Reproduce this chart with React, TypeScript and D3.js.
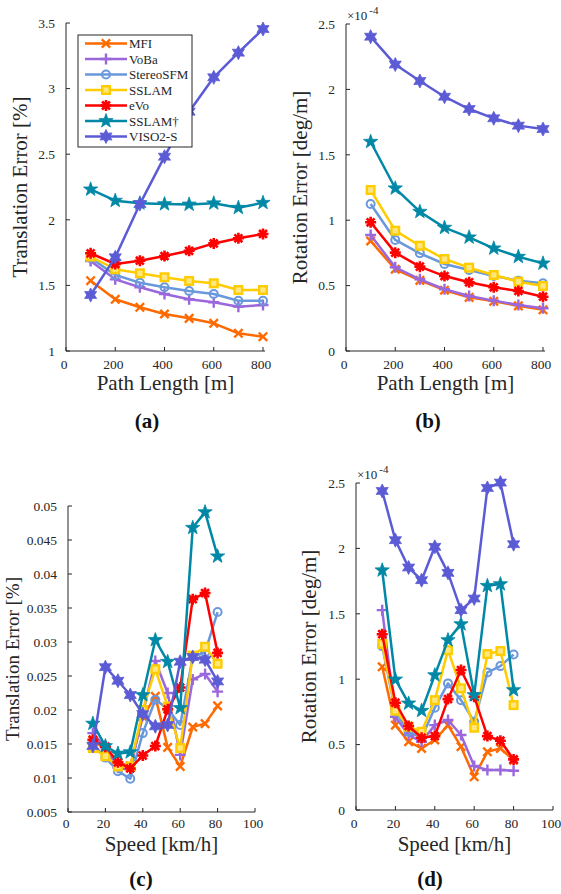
import React from "react";
import * as d3 from "d3";

const pathLengths = [100, 200, 300, 400, 500, 600, 700, 800];
const speeds = [13.3, 20, 26.7, 33.3, 40, 46.7, 53.3, 60, 66.7, 73.3, 80];
const methods = ["MFI", "VoBa", "StereoSFM", "SSLAM", "eVo", "SSLAM†", "VISO2-S"];
const colors = ["#ff6a00", "#9a68dc", "#6a98dc", "#ffcc00", "#ff0000", "#0088a6", "#5b5bd6"];
const markerTypes = ["x", "+", "o", "s", "*", "p", "h"];

// (a) translation error vs path length
const aMFI = [1.536, 1.394, 1.333, 1.282, 1.249, 1.211, 1.135, 1.109];
const aVoBa = [1.686, 1.546, 1.486, 1.434, 1.394, 1.371, 1.338, 1.351];
const aStereo = [1.71, 1.58, 1.52, 1.486, 1.457, 1.434, 1.383, 1.383];
const aSSLAM = [1.72, 1.623, 1.592, 1.562, 1.534, 1.516, 1.465, 1.465];
const aEVo = [1.745, 1.663, 1.688, 1.724, 1.764, 1.82, 1.859, 1.892];
const aSSLAMd = [2.232, 2.146, 2.126, 2.12, 2.117, 2.126, 2.092, 2.13];
const aVISO = [1.427, 1.714, 2.12, 2.481, 2.824, 3.086, 3.274, 3.454];

// (b) rotation error vs path length (x1e-4)
const bMFI = [0.841, 0.625, 0.54, 0.465, 0.41, 0.38, 0.345, 0.315];
const bVoBa = [0.887, 0.64, 0.548, 0.472, 0.42, 0.385, 0.352, 0.327];
const bStereo = [1.124, 0.849, 0.747, 0.665, 0.619, 0.573, 0.538, 0.518];
const bSSLAM = [1.231, 0.92, 0.805, 0.703, 0.637, 0.581, 0.53, 0.497];
const bEVo = [0.984, 0.752, 0.645, 0.573, 0.525, 0.487, 0.459, 0.415];
const bSSLAMd = [1.6, 1.244, 1.065, 0.943, 0.869, 0.785, 0.721, 0.67];
const bVISO = [2.403, 2.19, 2.064, 1.944, 1.85, 1.779, 1.723, 1.697];

// (c) translation error vs speed
const cMFI = [0.0156, 0.0142, 0.0122, 0.0118, 0.019, 0.022, 0.0145, 0.0117, 0.0175, 0.018, 0.0206];
const cVoBa = [0.0166, 0.0145, 0.0115, 0.0112, 0.0195, 0.0272, 0.0225, 0.0134, 0.0245, 0.0253, 0.0227];
const cStereo = [0.015, 0.013, 0.011, 0.0099, 0.0166, 0.0215, 0.0202, 0.0178, 0.0278, 0.0285, 0.0344];
const cSSLAM = [0.0144, 0.0132, 0.0117, 0.0117, 0.02, 0.026, 0.0205, 0.0144, 0.028, 0.0293, 0.0268];
const cEVo = [0.0156, 0.0146, 0.0123, 0.0114, 0.0133, 0.0147, 0.0201, 0.0233, 0.0363, 0.0372, 0.0284];
const cSSLAMd = [0.018, 0.0147, 0.0136, 0.0138, 0.0222, 0.0303, 0.0271, 0.0203, 0.0468, 0.0491, 0.0426];
const cVISO = [0.0147, 0.0263, 0.0243, 0.0222, 0.0194, 0.0176, 0.0178, 0.0271, 0.0278, 0.0274, 0.0242];

// (d) rotation error vs speed (x1e-4)
const dMFI = [1.095, 0.649, 0.522, 0.471, 0.535, 0.649, 0.484, 0.254, 0.445, 0.471, 0.38];
const dVoBa = [1.528, 0.713, 0.573, 0.522, 0.649, 0.688, 0.573, 0.336, 0.306, 0.306, 0.3];
const dStereo = [1.253, 0.75, 0.6, 0.55, 0.782, 0.968, 0.84, 0.675, 1.052, 1.1, 1.189];
const dSSLAM = [1.27, 0.759, 0.637, 0.598, 0.84, 1.222, 0.93, 0.629, 1.192, 1.215, 0.802];
const dEVo = [1.344, 0.82, 0.642, 0.552, 0.565, 0.848, 1.07, 0.866, 0.565, 0.53, 0.387];
const dSSLAMd = [1.833, 0.998, 0.815, 0.759, 1.031, 1.299, 1.421, 0.879, 1.714, 1.727, 0.917];
const dVISO = [2.439, 2.063, 1.854, 1.757, 2.012, 1.813, 1.528, 1.617, 2.462, 2.503, 2.032];

const lenTicks = [0, 200, 400, 600, 800];
const speedTicks = [0, 20, 40, 60, 80, 100];
const aYTicks = [1, 1.5, 2, 2.5, 3, 3.5];
const rotYTicks = [0, 0.5, 1, 1.5, 2, 2.5];
const cYTicks = [0.005, 0.01, 0.015, 0.02, 0.025, 0.03, 0.035, 0.04, 0.045, 0.05];

const FONT = "'Liberation Serif', 'DejaVu Serif', serif";
const AXC = "#262626";

function starPath(n: number, ro: number, ri: number) {
  const pts: string[] = [];
  for (let i = 0; i < 2 * n; i++) {
    const r = i % 2 === 0 ? ro : ri;
    const a = -Math.PI / 2 + (i * Math.PI) / n;
    pts.push(`${(r * Math.cos(a)).toFixed(2)},${(r * Math.sin(a)).toFixed(2)}`);
  }
  return "M" + pts.join("L") + "Z";
}

function Marker({ type, color, x, y }: { type: string; color: string; x: number; y: number }) {
  const t = `translate(${x},${y})`;
  if (type === "x") {
    const r = 4.2;
    return <path transform={t} d={`M${-r},${-r}L${r},${r}M${-r},${r}L${r},${-r}`} stroke={color} strokeWidth={2.4} fill="none" />;
  }
  if (type === "+") {
    const r = 5.5;
    return <path transform={t} d={`M${-r},0H${r}M0,${-r}V${r}`} stroke={color} strokeWidth={2.4} fill="none" />;
  }
  if (type === "o") {
    return <circle transform={t} r={4} stroke={color} strokeWidth={2} fill="none" />;
  }
  if (type === "s") {
    return <rect transform={t} x={-3.8} y={-3.8} width={7.6} height={7.6} stroke={color} strokeWidth={2.4} fill="#ffe680" />;
  }
  if (type === "*") {
    const r = 5.5;
    const q = r * 0.72;
    return (
      <path
        transform={t}
        d={`M${-r},0H${r}M0,${-r}V${r}M${-q},${-q}L${q},${q}M${-q},${q}L${q},${-q}`}
        stroke={color}
        strokeWidth={2.6}
        fill="none"
      />
    );
  }
  if (type === "p") {
    return <path transform={t} d={starPath(5, 7.5, 3)} fill={color} stroke={color} strokeWidth={0.8} />;
  }
  return <path transform={t} d={starPath(6, 7, 3.8)} fill={color} stroke={color} strokeWidth={0.8} />;
}

type PanelProps = {
  xs: number[];
  series: number[][];
  xDomain: [number, number];
  xRange: [number, number];
  yDomain: [number, number];
  yRange: [number, number];
  xTicks: number[];
  yTicks: number[];
  xLabel: string;
  yLabel: string;
  yLabelX: number;
  yLabelSize: number;
  xLabelY: number;
  tickLabelY: number;
  exponent?: boolean;
  panelLabel: string;
  panelLabelX: number;
  panelLabelY: number;
  legend?: boolean;
  axisEnd: number;
};

function Panel(p: PanelProps) {
  const x = d3.scaleLinear().domain(p.xDomain).range(p.xRange);
  const y = d3.scaleLinear().domain(p.yDomain).range(p.yRange);
  const line = d3
    .line<[number, number]>()
    .x((d) => x(d[0]))
    .y((d) => y(d[1]));
  const x0 = p.xRange[0];
  const yb = p.yRange[0];
  const yt = p.yRange[1];
  const xMid = (p.xRange[0] + p.axisEnd) / 2;
  const yMid = (yb + yt) / 2;
  return (
    <g>
      <line x1={x0} x2={x0} y1={yb} y2={yt} stroke={AXC} strokeWidth={1} />
      <line x1={x0} x2={p.axisEnd} y1={yb} y2={yb} stroke={AXC} strokeWidth={1} />
      {p.yTicks.map((t) => (
        <g key={"y" + t}>
          <line x1={x0} x2={x0 + 4} y1={y(t)} y2={y(t)} stroke={AXC} />
          <text x={x0 - 11} y={y(t)} dy="0.35em" textAnchor="end" fontSize={13.5} fill={AXC} fontFamily={FONT}>
            {d3.format("~g")(t)}
          </text>
        </g>
      ))}
      {p.xTicks.map((t) => (
        <g key={"x" + t}>
          <line x1={x(t)} x2={x(t)} y1={yb} y2={yb - 4} stroke={AXC} />
          <text x={x(t) - 2} y={p.tickLabelY} textAnchor="middle" fontSize={13.5} fill={AXC} fontFamily={FONT}>
            {t}
          </text>
        </g>
      ))}
      {p.exponent && (
        <text x={x0 + 1} y={yt - 4} fontSize={13} fill={AXC} fontFamily={FONT}>
          ×10
          <tspan dx={2} dy={-6} fontSize={11}>
            -4
          </tspan>
        </text>
      )}
      <text x={xMid} y={p.xLabelY} textAnchor="middle" fontSize={21} fill={AXC} fontFamily={FONT}>
        {p.xLabel}
      </text>
      <text
        transform={`translate(${p.yLabelX},${yMid}) rotate(-90)`}
        textAnchor="middle"
        fontSize={p.yLabelSize}
        fill={AXC}
        fontFamily={FONT}
      >
        {p.yLabel}
      </text>
      {p.series.map((vals, i) => {
        const pts = vals.map((v, j) => [p.xs[j], v] as [number, number]);
        return (
          <g key={methods[i]}>
            <path d={line(pts) || ""} fill="none" stroke={colors[i]} strokeWidth={2.5} strokeLinejoin="round" />
            {pts.map((d, j) => (
              <Marker key={j} type={markerTypes[i]} color={colors[i]} x={x(d[0])} y={y(d[1])} />
            ))}
          </g>
        );
      })}
      {p.legend && (
        <g>
          <rect x={78} y={35} width={114} height={112} fill="#fff" stroke={AXC} strokeWidth={1} />
          {methods.map((m, i) => {
            const ly = 43.5 + i * 15.5;
            return (
              <g key={m}>
                <line x1={85} x2={127} y1={ly} y2={ly} stroke={colors[i]} strokeWidth={2.5} />
                <Marker type={markerTypes[i]} color={colors[i]} x={106} y={ly} />
                <text x={129} y={ly} dy="0.35em" fontSize={13} fill={AXC} fontFamily={FONT}>
                  {m}
                </text>
              </g>
            );
          })}
        </g>
      )}
      <text
        x={p.panelLabelX}
        y={p.panelLabelY}
        textAnchor="middle"
        fontSize={21}
        fontWeight="bold"
        fill="#111"
        fontFamily={FONT}
      >
        {p.panelLabel}
      </text>
    </g>
  );
}

export default function App() {
  return (
    <svg
      width={561}
      height={894}
      viewBox="0 0 561 894"
      style={{ position: "absolute", left: 0, top: 0, background: "#fff" }}
    >
      <Panel
        xs={pathLengths}
        series={[aMFI, aVoBa, aStereo, aSSLAM, aEVo, aSSLAMd, aVISO]}
        xDomain={[0, 800]}
        xRange={[66, 263]}
        axisEnd={265}
        yDomain={[1, 3.5]}
        yRange={[351, 23]}
        xTicks={lenTicks}
        yTicks={aYTicks}
        xLabel="Path Length [m]"
        yLabel="Translation Error [%]"
        yLabelX={27}
        yLabelSize={21}
        xLabelY={390}
        tickLabelY={369}
        panelLabel="(a)"
        panelLabelX={147}
        panelLabelY={428}
        legend
      />
      <Panel
        xs={pathLengths}
        series={[bMFI, bVoBa, bStereo, bSSLAM, bEVo, bSSLAMd, bVISO]}
        xDomain={[0, 800]}
        xRange={[346, 543]}
        axisEnd={545}
        yDomain={[0, 2.5]}
        yRange={[351, 24]}
        xTicks={lenTicks}
        yTicks={rotYTicks}
        xLabel="Path Length [m]"
        yLabel="Rotation Error [deg/m]"
        yLabelX={307}
        yLabelSize={21}
        xLabelY={390}
        tickLabelY={369}
        exponent
        panelLabel="(b)"
        panelLabelX={428}
        panelLabelY={428}
      />
      <Panel
        xs={speeds}
        series={[cMFI, cVoBa, cStereo, cSSLAM, cEVo, cSSLAMd, cVISO]}
        xDomain={[0, 100]}
        xRange={[68, 255]}
        axisEnd={255}
        yDomain={[0.005, 0.05]}
        yRange={[812, 506]}
        xTicks={speedTicks}
        yTicks={cYTicks}
        xLabel="Speed [km/h]"
        yLabel="Translation Error [%]"
        yLabelX={19}
        yLabelSize={19}
        xLabelY={851}
        tickLabelY={828}
        panelLabel="(c)"
        panelLabelX={141}
        panelLabelY={886}
      />
      <Panel
        xs={speeds}
        series={[dMFI, dVoBa, dStereo, dSSLAM, dEVo, dSSLAMd, dVISO]}
        xDomain={[0, 100]}
        xRange={[356, 553]}
        axisEnd={553}
        yDomain={[0, 2.5]}
        yRange={[810, 483]}
        xTicks={speedTicks}
        yTicks={rotYTicks}
        xLabel="Speed [km/h]"
        yLabel="Rotation Error [deg/m]"
        yLabelX={316}
        yLabelSize={21}
        xLabelY={851}
        tickLabelY={828}
        exponent
        panelLabel="(d)"
        panelLabelX={430}
        panelLabelY={886}
      />
    </svg>
  );
}
